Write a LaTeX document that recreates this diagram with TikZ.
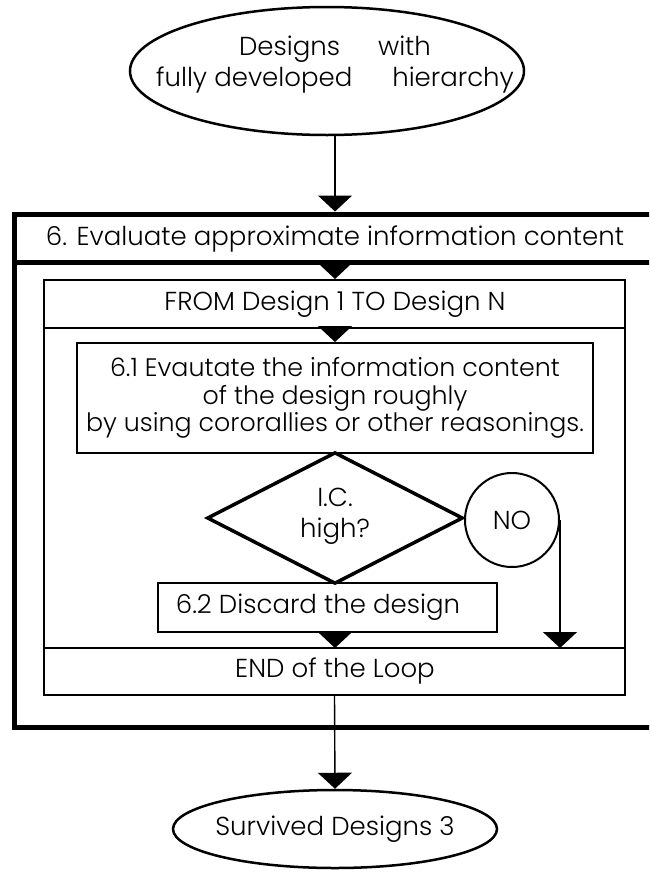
\documentclass[tikz,border=0pt]{standalone}
\usepackage{fontspec}
\setmainfont{Poppins Light}
\usetikzlibrary{shapes.geometric,arrows.meta}
\begin{document}
\begin{tikzpicture}[x=1pt,y=-1pt,
  txt/.style={font=\fontsize{26}{31}\selectfont, align=center, inner sep=0pt},
  heavy/.style={line width=5pt},
  frame/.style={line width=2pt},
  box/.style={draw, rectangle, frame, inner sep=0pt, txt},
  oval/.style={draw, ellipse, line width=2.5pt, inner sep=0pt},
  flow/.style={line width=1.4pt, -{Triangle[width=34pt,length=16pt]}}]
\useasboundingbox (0,0) rectangle (649,873);
\clip (0,0) rectangle (649,873);

% start and end terminals (text set as centred labels so the ovals keep their size)
\node[oval, minimum width=394pt, minimum height=128pt,
  label={[txt, text height=50pt, text depth=20pt, xshift=8pt]center:{Designs\hspace{38pt}with\\fully developed\hspace{40pt}hierarchy}}]
  (src) at (327,71) {};
\node[oval, minimum width=324pt, minimum height=78pt,
  label={[txt]center:Survived Designs 3}] (survived) at (335,829) {};

% step 6 frame with its title bar
\node[draw, rectangle, heavy, inner sep=0pt, minimum width=648pt, minimum height=513pt] (outer) at (338,470.5) {};
\node[txt] (title) at (335,239) {6. Evaluate approximate information content};
\coordinate (titlebar) at (335,262);
\draw[heavy] (outer.west |- titlebar) -- (outer.east |- titlebar);

% loop over the designs
\node[draw, rectangle, frame, inner sep=0pt, minimum width=581pt, minimum height=415pt] (loop) at (334.5,487.5) {};
\node[txt] (from) at (335,304) {FROM Design 1 TO Design N};
\coordinate (loopbar) at (335,328);
\draw[frame] (loop.west |- loopbar) -- (loop.east |- loopbar);
\node[txt] (endloop) at (335,671) {END of the Loop};
\coordinate (endbar) at (335,648);
\draw[frame] (loop.west |- endbar) -- (loop.east |- endbar);

% body of the loop
\node[box, font=\fontsize{25.3}{27.5}\selectfont, minimum width=516pt, minimum height=110pt] (eval) at (335,398)
  {6.1 Evautate the information content\\of the design roughly\hspace*{38pt}\\by using cororallies or other reasonings.};
\node[draw, diamond, line width=3.5pt, inner sep=0pt, minimum width=256pt, minimum height=130pt,
  txt, text height=50pt, text depth=12pt] (ic) at (335,518) {I.C.\\high?};
\node[draw, circle, frame, inner sep=0pt, minimum size=94pt, txt] (no) at (512,520) {NO};
\node[box, minimum width=339pt, minimum height=49pt] (discard) at (327.5,607.5) {6.2 Discard the design\hspace*{19pt}};

% connectors
\draw[flow] (src.south -| titlebar) -- (titlebar |- outer.north);
\draw[flow] (titlebar) -- (titlebar |- loop.north);
\draw[flow] (loopbar) -- (loopbar |- eval.north);
\draw[flow] (no.east) -- (no.east |- endbar);
\draw[flow] (discard.south -| endbar) -- (endbar);
\draw[flow] (loop.south) -- (survived.north);
\end{tikzpicture}
\end{document}
